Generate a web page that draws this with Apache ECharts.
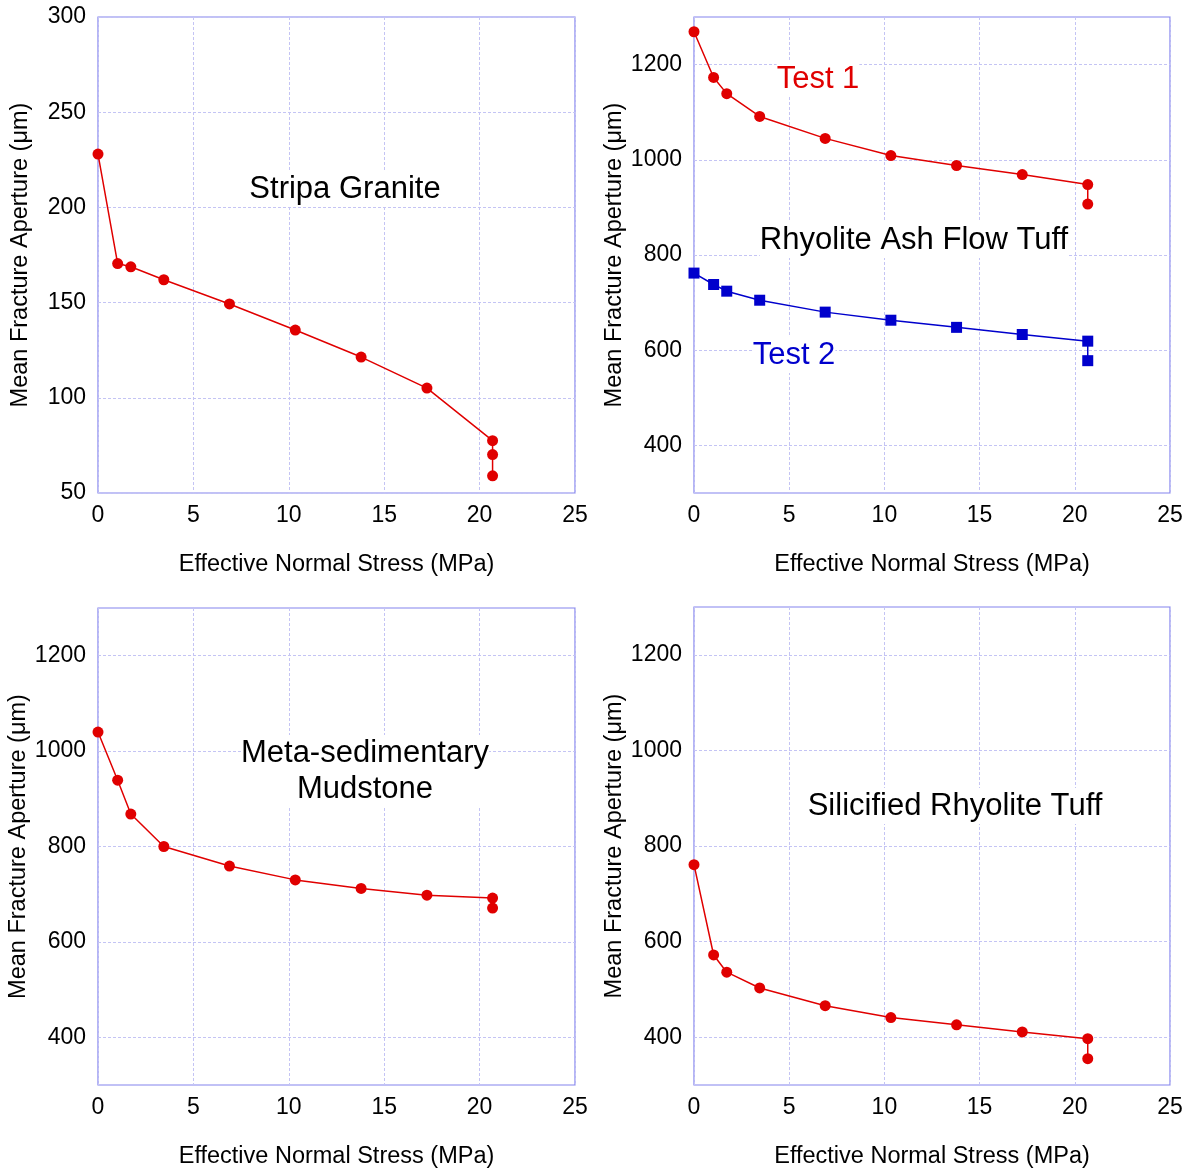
<!DOCTYPE html>
<html><head><meta charset="utf-8">
<script src="https://cdn.jsdelivr.net/npm/echarts@6/dist/echarts.min.js"></script>
<style>html,body{margin:0;padding:0;background:#fff}#c{width:1190px;height:1171px}</style>
</head><body><div id="c"></div>
<script>
const stress = [0, 1.03, 1.72, 3.45, 6.89, 10.34, 13.79, 17.24, 20.68];
const graniteX = [0, 1.03, 1.72, 3.45, 6.89, 10.34, 13.79, 17.24, 20.68, 20.68, 20.68];
const graniteY = [228, 170.5, 168.8, 162, 149.3, 135.6, 121.4, 105.1, 77.5, 70.2, 59];
const tuffX = [0, 1.03, 1.72, 3.45, 6.89, 10.34, 13.79, 17.24, 20.68, 20.68];
const tuffTest1 = [1269, 1173, 1139, 1091, 1045, 1009, 988, 969, 948, 907];
const tuffTest2 = [762, 738, 724, 705, 680, 663, 648, 633, 619, 578];
const mudX = [0, 1.03, 1.72, 3.45, 6.89, 10.34, 13.79, 17.24, 20.68, 20.68];
const mudY = [1040, 939, 868, 800, 759, 730, 712, 698, 692, 671];
const silX = [0, 1.03, 1.72, 3.45, 6.89, 10.34, 13.79, 17.24, 20.68, 20.68];
const silY = [761, 572, 536, 503, 466, 441, 426, 411, 397, 355];
const xTicks = [0, 5, 10, 15, 20, 25];
const graniteTicks = [50, 100, 150, 200, 250, 300];
const bigTicks = [400, 600, 800, 1000, 1200];

const FONT = 'Liberation Sans, Arial, sans-serif';
const RED = '#e00000', BLUE = '#0000cc';
const BORDER = '#8484ee', GRID = '#c4c4f4';

const grids = [
  {left: 98, top: 17, width: 477, height: 476},
  {left: 694, top: 17, width: 476, height: 476},
  {left: 98, top: 608, width: 477, height: 477},
  {left: 694, top: 607, width: 476, height: 478}
];

function xAxis(i) {
  return {
    gridIndex: i, type: 'value', min: 0, max: 25, interval: 5,
    name: 'Effective Normal Stress (MPa)', nameLocation: 'middle', nameGap: 60,
    nameTextStyle: {fontFamily: FONT, fontSize: 23.5, color: '#000'},
    axisLine: {show: false}, axisTick: {show: false},
    axisLabel: {fontFamily: FONT, fontSize: 23, color: '#000', margin: 11, formatter: v => String(v)},
    splitLine: {show: true, lineStyle: {color: GRID, width: 1, type: [3, 2]}}
  };
}
function yAxis(i, min, max, ticks) {
  return {
    gridIndex: i, type: 'value', min: min, max: max,
    name: 'Mean Fracture Aperture (\u03bcm)', nameLocation: 'middle', nameGap: 65,
    nameTextStyle: {fontFamily: FONT, fontSize: 23.5, color: '#000'},
    axisLine: {show: false},
    axisTick: {show: false, customValues: ticks},
    axisLabel: {fontFamily: FONT, fontSize: 23, color: '#000', margin: 12, customValues: ticks, formatter: v => String(v)},
    splitLine: {show: true, lineStyle: {color: GRID, width: 1, type: [3, 2]}}
  };
}
function zip(xs, ys) { return xs.map((x, k) => [x, ys[k]]); }
function line(i, xs, ys, color, symbol) {
  return {
    type: 'line', xAxisIndex: i, yAxisIndex: i, data: zip(xs, ys),
    symbol: symbol, symbolSize: symbol === 'rect' ? 11 : 11,
    lineStyle: {color: color, width: 1.5}, itemStyle: {color: color},
    animation: false, z: 5
  };
}
function title(x, y, text, color) {
  return {type: 'text', x: x, y: y, z: 100, style: {text: text, fill: color, font: '31px ' + FONT, align: 'center', verticalAlign: 'middle', lineHeight: 36, backgroundColor: '#fff'}};
}
const chart = echarts.init(document.getElementById('c'));
chart.setOption({
  animation: false,
  grid: grids.map(g => Object.assign({show: true, borderColor: BORDER, borderWidth: 1.2, backgroundColor: 'transparent'}, g)),
  xAxis: [0, 1, 2, 3].map(xAxis),
  yAxis: [yAxis(0, 50, 300, graniteTicks), yAxis(1, 300, 1300, bigTicks), yAxis(2, 300, 1300, bigTicks), yAxis(3, 300, 1300, bigTicks)],
  series: [
    line(0, graniteX, graniteY, RED, 'circle'),
    line(1, tuffX, tuffTest1, RED, 'circle'),
    line(1, tuffX, tuffTest2, BLUE, 'rect'),
    line(2, mudX, mudY, RED, 'circle'),
    line(3, silX, silY, RED, 'circle')
  ],
  graphic: [
    title(345, 189, 'Stripa Granite', '#000'),
    title(818, 79, 'Test 1', RED),
    title(914, 240, 'Rhyolite Ash Flow Tuff', '#000'),
    title(794, 355, 'Test 2', BLUE),
    title(365, 771, 'Meta-sedimentary\nMudstone', '#000'),
    title(955, 806, 'Silicified Rhyolite Tuff', '#000')
  ]
});
</script></body></html>
